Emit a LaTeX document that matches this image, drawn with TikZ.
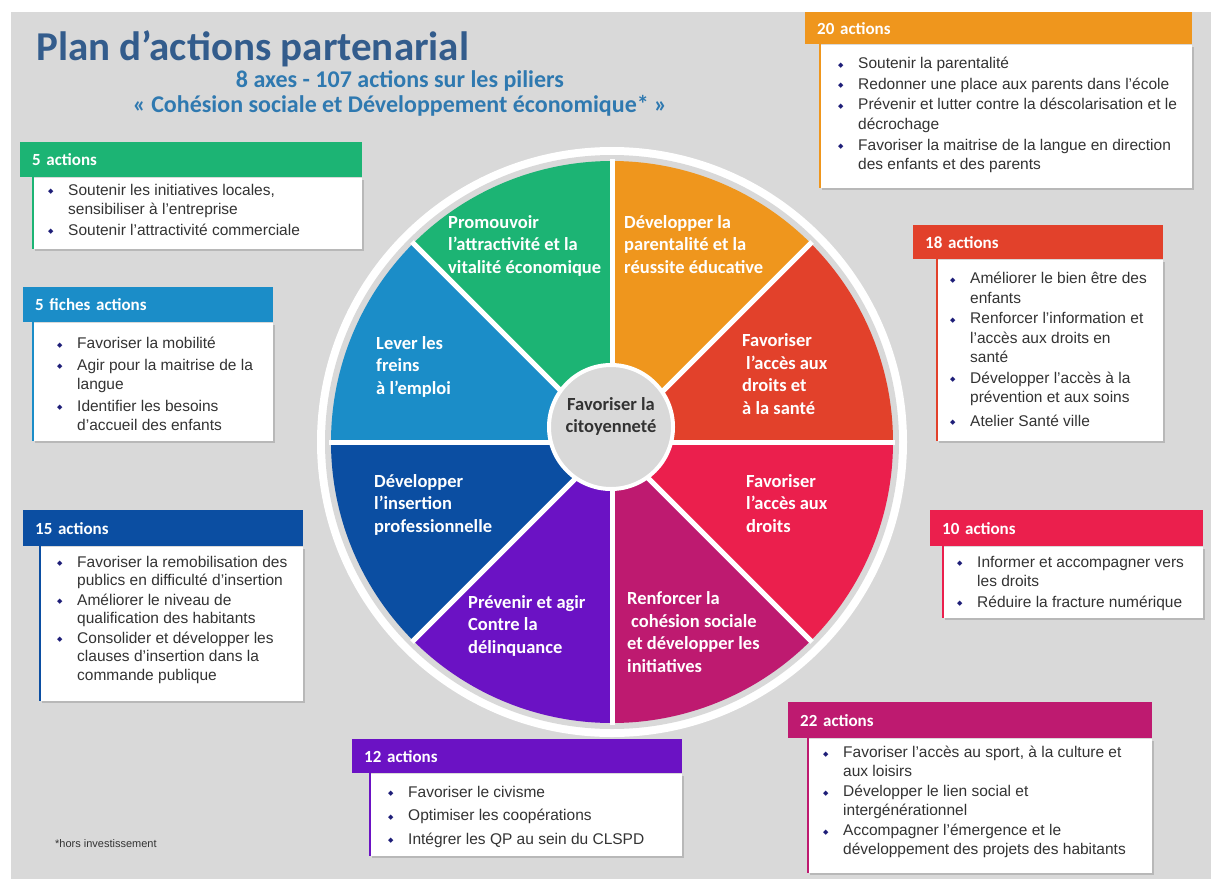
\documentclass[tikz,border=0pt]{standalone}
\usepackage{fontspec}
\setmainfont{Liberation Sans}
\newfontfamily\carlito{Carlito}
\newfontfamily\symb{DejaVu Sans}
\usepackage{xcolor}
\usetikzlibrary{positioning,shadows}
\definecolor{fond}{HTML}{D9D9D9}
\definecolor{ctitre}{HTML}{335C8C}
\definecolor{csoustitre}{HTML}{2F79B0}
\definecolor{ctexte}{HTML}{333333}
\definecolor{cpuce}{HTML}{1E1E78}
\definecolor{cvert}{HTML}{1CB474}
\definecolor{corange}{HTML}{EF961D}
\definecolor{crouge}{HTML}{E2412B}
\definecolor{crose}{HTML}{EB1F4D}
\definecolor{cmagenta}{HTML}{BE1A70}
\definecolor{cviolet}{HTML}{6B12C4}
\definecolor{cmarine}{HTML}{0B4EA2}
\definecolor{cbleu}{HTML}{1B8DC8}
\newcommand{\puce}{\makebox[20pt][l]{\raisebox{1.5pt}{\textcolor{cpuce}{\symb\fontsize{7}{7}\selectfont ◆}}}}
\newcommand{\suite}{\hspace*{20pt}}

\begin{document}
\begin{tikzpicture}[x=1pt,y=-1pt,
  tete/.style={fill=#1,text=white,font=\carlito\bfseries\fontsize{17}{17}\selectfont,
               inner xsep=12pt,inner ysep=0pt,anchor=north west,align=left},
  corps/.style={fill=white,inner sep=0pt,
                drop shadow={shadow xshift=2pt,shadow yshift=-2pt,opacity=.15,fill=black}},
  liste/.style={anchor=north west,inner sep=0pt,align=left,text=ctexte,
                font=\fontsize{15.5}{19.5}\selectfont},
  filet/.style={draw=#1,line width=1.5pt},
  axe/.style={anchor=base west,inner sep=0pt,align=left,text=white,
              font=\carlito\bfseries\fontsize{18.5}{22.5}\selectfont}
]
\useasboundingbox (0,0) rectangle (1211,879);
\fill[white] (0,0) rectangle (1211,879);
\fill[fond] (11,12) rectangle (1211,879);

% titre
\node[anchor=base west,inner sep=0pt,text=ctitre,font=\carlito\bfseries\fontsize{41}{41}\selectfont] (titre) at (36,60) {Plan d’actions partenarial};
\node[anchor=base,inner sep=0pt,align=center,text=csoustitre,font=\carlito\bfseries\fontsize{24}{25}\selectfont] (sous) at (400,112) {8 axes - 107 actions sur les piliers\\« Cohésion sociale et Développement économique* »};

% la roue
\coordinate (C) at (612,442);
\fill[white] (C) circle[radius=295pt];
\fill[fond] (C) circle[radius=287pt];
\foreach \a/\c in {0/crouge,45/corange,90/cvert,135/cbleu,180/cmarine,225/cviolet,270/cmagenta,315/crose}
  \fill[\c] (C) -- ++(\a:281pt) arc[start angle=\a,delta angle=45,radius=281pt] -- cycle;
\foreach \a in {0,45,...,315}
  \draw[white,line width=5pt] (C) -- ++(\a:283pt);
\node[circle,fill=fond,draw=white,line width=4pt,minimum size=124pt,inner sep=0pt] (cit) at (611,427) {};
\node[align=center,inner sep=0pt,text=ctexte,font=\carlito\bfseries\fontsize{18.5}{22}\selectfont] (citt) at (611,416) {Favoriser la\\citoyenneté};

% base = derniere ligne
\node[axe] (a1) at (448,273) {Promouvoir\\l’attractivité et la\\vitalité économique};
\node[axe] (a2) at (624,273) {Développer la\\parentalité et la\\réussite éducative};
\node[axe] (a3) at (376,394) {Lever les\\freins\\à l’emploi};
\node[axe] (a4) at (742,414) {Favoriser\\\hspace*{4pt}l’accès aux\\droits et\\à la santé};
\node[axe] (a5) at (374,532) {Développer\\l’insertion\\professionnelle};
\node[axe] (a6) at (746,532) {Favoriser\\l’accès aux\\droits};
\node[axe] (a7) at (468,653) {Prévenir et agir\\Contre la\\délinquance};
\node[axe] (a8) at (627,672) {Renforcer la\\\hspace*{4pt}cohésion sociale\\et développer les\\initiatives};

% 20 actions
\node[tete=corange,text width=363pt,minimum height=32pt] (h20) at (805,12) {20 actions};
\node[corps,below=0pt of h20.south east,anchor=north east,minimum width=372pt,minimum height=143pt] (b20) {};
\draw[filet=corange] (b20.north west) -- (b20.south west);
\node[liste] (l20) at (838,57) {\puce Soutenir la parentalité\\[1pt]
  \puce Redonner une place aux parents dans l’école\\[1pt]
  \puce Prévenir et lutter contre la déscolarisation et le\\ \suite décrochage\\[1.5pt]
  \puce Favoriser la maitrise de la langue en direction\\ \suite des enfants et des parents};

% 5 actions
\node[tete=cvert,text width=318pt,minimum height=35pt] (h5a) at (20,142) {5 actions};
\node[corps,below=0pt of h5a.south east,anchor=north east,minimum width=329pt,minimum height=71pt] (b5a) {};
\draw[filet=cvert] (b5a.north west) -- (b5a.south west);
\node[liste] (l5a) at (48,184) {\puce Soutenir les initiatives locales,\\ \suite sensibiliser à l’entreprise\\[1pt]
  \puce Soutenir l’attractivité commerciale};

% 5 fiches actions
\node[tete=cbleu,text width=226pt,minimum height=35pt] (h5f) at (23,287) {5 fiches actions};
\node[corps,below=0pt of h5f.south east,anchor=north east,minimum width=240pt,minimum height=118pt] (b5f) {};
\draw[filet=cbleu] (b5f.north west) -- (b5f.south west);
\node[liste] (l5f) at (57,337) {\puce Favoriser la mobilité\\[2pt]
  \puce Agir pour la maitrise de la\\ \suite langue\\[2pt]
  \puce Identifier les besoins\\ \suite d’accueil des enfants};

% 18 actions
\node[tete=crouge,text width=226pt,minimum height=34pt] (h18) at (913,225) {18 actions};
\node[corps,below=0pt of h18.south east,anchor=north east,minimum width=226pt,minimum height=181pt] (b18) {};
\draw[filet=crouge] (b18.north west) -- (b18.south west);
\node[liste] (l18) at (950,272) {\puce Améliorer le bien être des\\ \suite enfants\\[1pt]
  \puce Renforcer l’information et\\ \suite l’accès aux droits en\\ \suite santé\\[1pt]
  \puce Développer l’accès à la\\ \suite prévention et aux soins\\[4pt]
  \puce Atelier Santé ville};

% 15 actions
\node[tete=cmarine,text width=256pt,minimum height=36pt] (h15) at (23,510) {15 actions};
\node[corps,below=0pt of h15.south east,anchor=north east,minimum width=263pt,minimum height=154pt] (b15) {};
\draw[filet=cmarine] (b15.north west) -- (b15.south west);
\node[liste,font=\fontsize{15.5}{18.5}\selectfont] (l15) at (57,556) {\puce Favoriser la remobilisation des\\ \suite publics en difficulté d’insertion\\[1pt]
  \puce Améliorer le niveau de\\ \suite qualification des habitants\\[1pt]
  \puce Consolider et développer les\\ \suite clauses d’insertion dans la\\ \suite commande publique};

% 10 actions
\node[tete=crose,text width=249pt,minimum height=36pt] (h10) at (930,510) {10 actions};
\node[corps,below=0pt of h10.south east,anchor=north east,minimum width=260pt,minimum height=71pt] (b10) {};
\draw[filet=crose] (b10.north west) -- (b10.south west);
\node[liste] (l10) at (957,556) {\puce Informer et accompagner vers\\ \suite les droits\\[1pt]
  \puce Réduire la fracture numérique};

% 22 actions
\node[tete=cmagenta,text width=340pt,minimum height=36pt] (h22) at (788,702) {22 actions};
\node[corps,below=0pt of h22.south east,anchor=north east,minimum width=344pt,minimum height=134pt] (b22) {};
\draw[filet=cmagenta] (b22.north west) -- (b22.south west);
\node[liste,font=\fontsize{15.5}{18.5}\selectfont] (l22) at (823,746) {\puce Favoriser l’accès au sport, à la culture et\\ \suite aux loisirs\\[2pt]
  \puce Développer le lien social et\\ \suite intergénérationnel\\[2pt]
  \puce Accompagner l’émergence et le\\ \suite développement des projets des habitants};

% 12 actions
\node[tete=cviolet,text width=306pt,minimum height=34pt] (h12) at (352,739) {12 actions};
\node[corps,below=0pt of h12.south east,anchor=north east,minimum width=312pt,minimum height=82pt] (b12) {};
\draw[filet=cviolet] (b12.north west) -- (b12.south west);
\node[liste] (l12) at (388,786) {\puce Favoriser le civisme\\[4pt]
  \puce Optimiser les coopérations\\[4pt]
  \puce Intégrer les QP au sein du CLSPD};

\node[anchor=base west,inner sep=0pt,text=ctexte,font=\fontsize{11}{11}\selectfont] (note) at (55,847) {*hors investissement};
\end{tikzpicture}
\end{document}
